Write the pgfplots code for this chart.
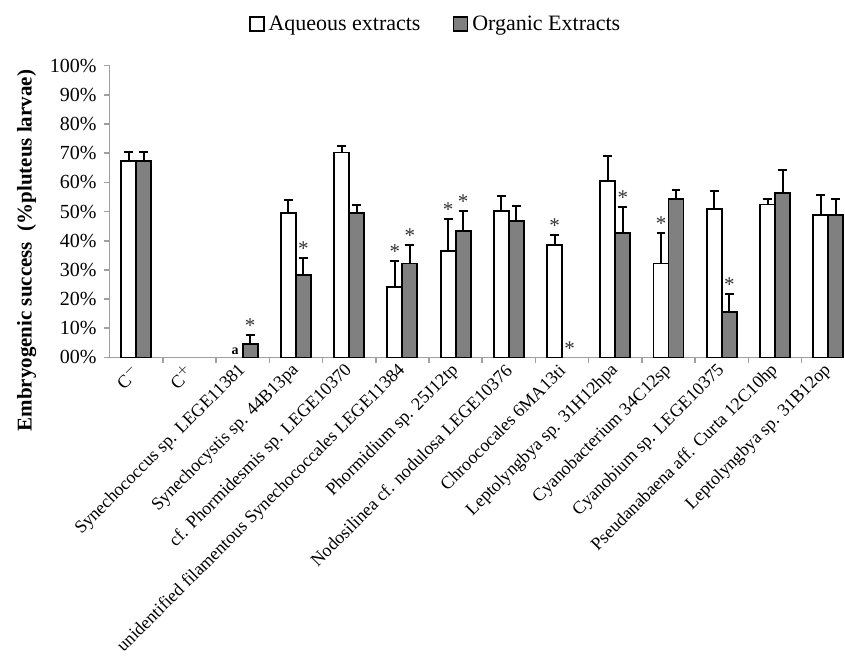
\documentclass[border=0pt]{standalone}
\usepackage{pgfplots}
\usepackage{pgfplotstable}
\pgfplotsset{compat=1.18}
\usepackage{fontspec}
\setmainfont{Liberation Serif}

% x: category index; aq/org: mean (%); aqe/orge: upper error (%)
\pgfplotstableread{
x  aq    aqe   org   orge
0  67.4  3.0   67.4  3.0
1  nan   nan   nan   nan
2  nan   nan   4.7   2.9
3  49.5  4.3   28.2  6.0
4  70.2  2.1   49.5  2.9
5  24.1  9.0   32.2  6.3
6  36.4  11.1  43.3  6.9
7  50.2  5.0   46.7  5.1
8  38.5  3.5   nan   nan
9  60.6  8.3   42.7  9.0
10 32.2  10.5  54.3  3.0
11 50.9  6.3   15.7  6.2
12 52.4  2.0   56.4  7.7
13 48.9  6.9   48.9  5.5
}\datatable

\definecolor{orggray}{RGB}{128,128,128}
\definecolor{axgray}{RGB}{160,160,160}

\begin{document}
\begin{tikzpicture}
\begin{axis}[
  width=367.5pt, height=146pt, scale only axis,
  ybar, bar width=7.5pt,
  xmin=-0.5, xmax=13.3,
  ymin=0, ymax=100,
  axis lines*=left,
  axis line style={axgray, line width=0.8pt},
  tick align=outside,
  ytick={0,10,...,100},
  yticklabels={00\%,10\%,20\%,30\%,40\%,50\%,60\%,70\%,80\%,90\%,100\%},
  y tick style={axgray, line width=0.8pt},
  major tick length=3pt,
  xtick={0,...,13},
  major x tick style={draw=none},
  minor xtick={0.5,1.5,...,12.5},
  minor x tick style={axgray, line width=0.8pt},
  minor tick length=3pt,
  xticklabels={C$^-$,C$^+$,Synechococcus sp. LEGE11381,Synechocystis sp. 44B13pa,
    cf. Phormidesmis sp. LEGE10370,unidentified filamentous Synechococcales LEGE11384,
    Phormidium sp. 25J12tp,Nodosilinea cf. nodulosa LEGE10376,Chroococales 6MA13ti,
    Leptolyngbya sp. 31H12hpa,Cyanobacterium 34C12sp,Cyanobium sp. LEGE10375,
    Pseudanabaena aff. Curta 12C10hp,Leptolyngbya sp. 31B12op},
  x tick label style={rotate=45, anchor=east, font=\fontsize{9}{10}\selectfont, xshift=2pt, yshift=-1.5pt},
  y tick label style={font=\fontsize{10}{11}\selectfont},
  ylabel={\textbf{Embryogenic success\ \ (\%pluteus larvae)}},
  ylabel style={at={(axis description cs:-0.113,0.366)}, anchor=center, inner ysep=8.5pt,
    font=\fontsize{10.5}{12}\selectfont},
  unbounded coords=discard,
  legend columns=2,
  legend style={draw=none, at={(0.445,1.14)}, anchor=center, inner ysep=6pt,
    font=\fontsize{11}{12}\selectfont,
    /tikz/every even column/.append style={column sep=14pt}},
  legend image code/.code={\draw[#1, line width=0.9pt] (0pt,-3.2pt) rectangle (7pt,3.8pt);},
  error bars/error bar style={black, line width=1pt},
  error bars/error mark options={black, rotate=90, mark size=2.2pt, line width=1pt},
]
\addplot[draw=black, fill=white, line width=0.9pt, bar shift=-3.75pt,
  error bars/.cd, y dir=plus, y explicit]
  table[x=x, y=aq, y error=aqe] {\datatable};
\addlegendentry{Aqueous extracts}
\addplot[draw=black, fill=orggray, line width=0.9pt, bar shift=3.75pt,
  error bars/.cd, y dir=plus, y explicit]
  table[x=x, y=org, y error=orge] {\datatable};
\addlegendentry{Organic Extracts}

% significance marks (placed at top of the error bars)
\addplot[forget plot, draw=none, fill=none, bar shift=-3.75pt,
  point meta=explicit symbolic, nodes near coords,
  nodes near coords style={anchor=south, font=\fontsize{10.5}{11}\selectfont, text=black!80, inner sep=1pt}]
  coordinates {(5,33.1)[*] (6,47.5)[*] (8,42.0)[*] (10,42.7)[*]};
\addplot[forget plot, draw=none, fill=none, bar shift=3.75pt,
  point meta=explicit symbolic, nodes near coords,
  nodes near coords style={anchor=south, font=\fontsize{10.5}{11}\selectfont, text=black!80, inner sep=1pt}]
  coordinates {(2,7.6)[*] (3,34.2)[*] (5,38.5)[*] (6,50.2)[*] (8,0)[*] (9,51.7)[*] (11,21.9)[*]};
\addplot[forget plot, draw=none, fill=none, bar shift=-3.75pt,
  point meta=explicit symbolic, nodes near coords,
  nodes near coords style={anchor=south, font=\bfseries\fontsize{7}{8}\selectfont, inner sep=1pt}]
  coordinates {(2,0)[a]};
\end{axis}
\end{tikzpicture}
\end{document}
